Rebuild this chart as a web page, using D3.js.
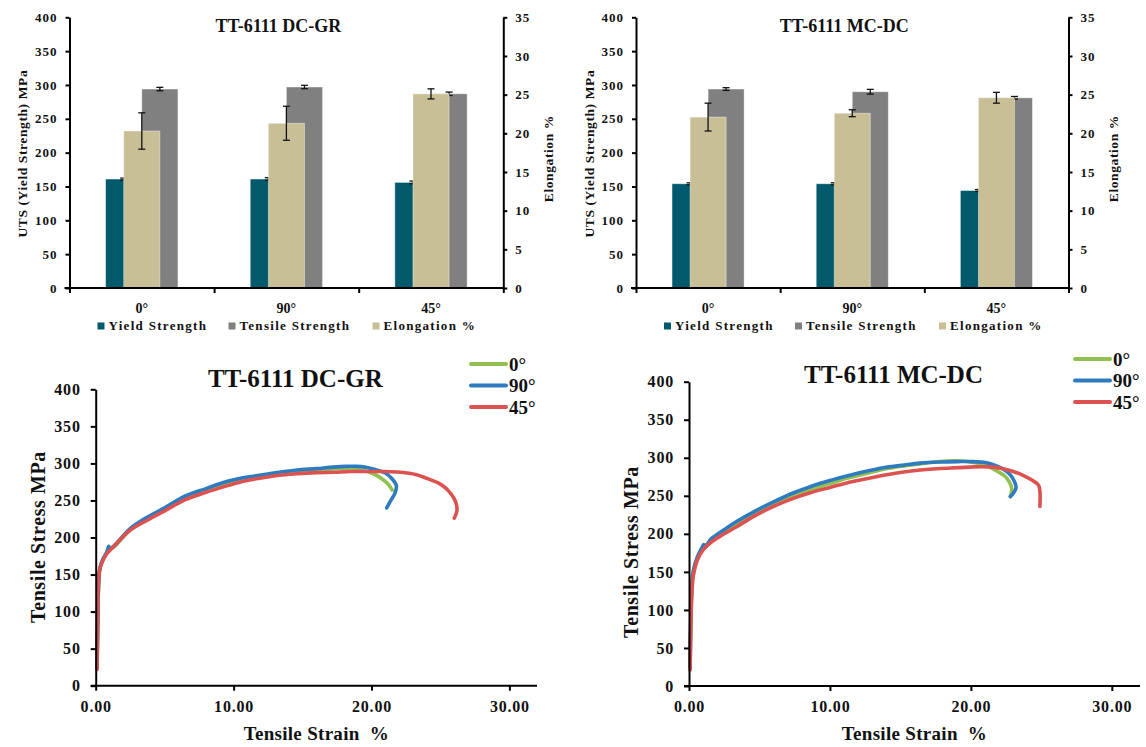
<!DOCTYPE html>
<html><head><meta charset="utf-8">
<script src="https://cdn.jsdelivr.net/npm/d3@7"></script>
<style>
body{margin:0;background:#fff}
svg{display:block}
text{font-family:"Liberation Serif","Times New Roman",serif;font-weight:bold;fill:#111}
</style>
</head><body>
<svg id="c" width="1146" height="747"></svg>
<script>
// ---------- DATA ----------
const barCategories = ["0°", "90°", "45°"];
const seriesNames = ["Yield Strength", "Tensile Strength", "Elongation %"];

const dcgrYield = [161, 161, 156];
const dcgrYieldErr = [1.5, 2, 2];
const dcgrTensile = [294, 297, 287];
const dcgrTensileErr = [2.5, 2.5, 2.5];
const dcgrElong = [20.3, 21.3, 25.1];
const dcgrElongErr = [2.35, 2.2, 0.65];

const mcdcYield = [154, 154, 144];
const mcdcYieldErr = [1.5, 1.5, 1.5];
const mcdcTensile = [294, 290, 281];
const mcdcTensileErr = [2, 3.5, 2];
const mcdcElong = [22.1, 22.6, 24.6];
const mcdcElongErr = [1.8, 0.45, 0.7];

const strengthTicks = [0, 50, 100, 150, 200, 250, 300, 350, 400];
const elongTicks = [0, 5, 10, 15, 20, 25, 30, 35];
const stressTicks = [0, 50, 100, 150, 200, 250, 300, 350, 400];
const strainTicks = [0, 10, 20, 30];

const curveNames = ["0°", "90°", "45°"];

const dcgr0 = [[0.1,25],[0.15,80],[0.2,130],[0.3,157],[0.5,169],[0.8,179],[1.0,185],[1.3,187],[2.5,210],[3.8,226],[5,238],[6.5,253],[8,264],[9.2,271],[10.5,277],[11.9,282],[13.3,286],[14.6,289],[16,291],[17.2,292.5],[18.3,293],[19.2,291],[20,287],[20.7,280],[21.2,272],[21.5,264]];
const dcgr90 = [[0.1,25],[0.15,80],[0.2,130],[0.3,158],[0.5,170],[0.8,180],[0.95,188],[1.05,185],[1.3,188],[2.5,212],[3.8,228],[5,240],[6.5,256],[8,266],[9.2,274],[10.5,280],[11.9,284],[13.3,288],[14.6,291],[16,293],[17.2,295],[18.2,296],[18.9,296],[19.5,295],[20.2,292],[21,287],[21.5,279],[21.8,270],[21.7,260],[21.4,250],[21.1,240]];
const dcgr45 = [[0.1,22],[0.12,60],[0.15,100],[0.2,140],[0.3,158],[0.5,168],[0.8,178],[1.1,184],[1.5,192],[2.5,210],[3.8,224],[5,236],[6.5,251],[8,261],[9.2,268],[10.5,275],[11.9,280],[13.3,284],[14.6,286],[16,287.5],[17.2,288],[18.5,289],[19.9,289],[21,289],[22.1,288],[23.2,285],[24,280],[24.8,274],[25.3,268],[25.8,258],[26.1,248],[26.2,237],[26.0,226]];

const mcdc0 = [[0.08,25],[0.12,80],[0.2,130],[0.3,150],[0.6,169],[1.0,181],[1.5,190],[2.3,201],[3.35,214],[4.6,227],[6,240],[7.3,250],[8.6,258],[10,266],[11.2,273],[12.5,279],[13.8,285],[15.1,289],[16.4,292],[17.8,295],[18.7,296],[19.6,295.5],[20.4,293],[21.2,289],[21.9,282],[22.4,276],[22.7,269],[22.9,260],[22.8,249]];
const mcdc90 = [[0.08,25],[0.12,80],[0.2,130],[0.3,150],[0.6,170],[0.95,183],[1.05,186],[1.15,182],[1.5,192],[2.3,203],[3.35,216],[4.6,229],[6,242],[7.3,253],[8.6,262],[10,270],[11.2,276],[12.5,282],[13.8,287],[15.1,290],[16.4,293],[17.8,294.5],[19.1,295],[20.1,295],[20.9,294],[21.6,291],[22.2,286],[22.6,281],[22.9,275],[23.15,266],[23.2,260],[23.0,253],[22.8,249]];
const mcdc45 = [[0.08,21],[0.12,70],[0.2,120],[0.3,144],[0.6,166],[1.0,179],[1.5,188],[2.3,198],[3.35,209],[4.6,223],[6,236],[7.3,246],[8.6,254],[10,261],[11.2,267],[12.5,272],[13.8,277],[15.1,281],[16.4,284],[17.8,286],[19.1,287],[20.2,288],[21.2,288],[22.2,286],[23,282],[23.7,277],[24.3,271],[24.8,264],[24.9,255],[24.9,236]];

// ---------- DRAW ----------
const svg = d3.select("#c");
const barColors = ["#005a6b", "#808080", "#c9bf97"];
const lineColors = ["#92c050", "#2e7bbf", "#dc5250"];

function styleAxis(sel, w) {
  sel.select(".domain").attr("stroke", "#000").attr("stroke-width", w);
  sel.selectAll(".tick line").attr("stroke", "#000").attr("stroke-width", w);
  sel.selectAll(".tick text").style("font-family", '"Liberation Serif",serif').style("font-weight", "bold").attr("fill", "#111");
}

function barChart(o) {
  const g = svg.append("g");
  const x = d3.scaleBand().domain(barCategories).range([o.x0, o.x1]);
  const xl = d3.scaleLinear().domain([0, 3]).range([o.x0, o.x1]);
  const yL = d3.scaleLinear().domain([0, 400]).range([o.yb, o.yt]);
  const yR = d3.scaleLinear().domain([0, 35]).range([o.yb, o.yt]);
  const bw = x.bandwidth() * 0.25;
  const series = [
    {vals: o.yield, err: o.yieldErr, s: yL, c: barColors[0], off: -bw},
    {vals: o.tensile, err: o.tensileErr, s: yL, c: barColors[1], off: 0},
    {vals: o.elong, err: o.elongErr, s: yR, c: barColors[2], off: -bw / 2}
  ];
  series.forEach(se => {
    const cx = (d) => x(d) + x.bandwidth() / 2 + se.off;
    g.append("g").selectAll("rect").data(barCategories).enter().append("rect")
      .attr("x", d => cx(d)).attr("width", bw)
      .attr("y", (d, i) => se.s(se.vals[i]))
      .attr("height", (d, i) => o.yb - se.s(se.vals[i]))
      .attr("fill", se.c).attr("stroke", "rgba(255,255,255,0.5)").attr("stroke-width", 0.8);
    const eg = g.append("g").attr("stroke", "#111").attr("stroke-width", 1.3);
    barCategories.forEach((d, i) => {
      const mx = cx(d) + bw / 2;
      const hi = se.s(se.vals[i] + se.err[i]), lo = se.s(se.vals[i] - se.err[i]);
      eg.append("line").attr("x1", mx).attr("x2", mx).attr("y1", hi).attr("y2", lo);
      eg.append("line").attr("x1", mx - 3.5).attr("x2", mx + 3.5).attr("y1", hi).attr("y2", hi);
      eg.append("line").attr("x1", mx - 3.5).attr("x2", mx + 3.5).attr("y1", lo).attr("y2", lo);
    });
  });
  // axes
  const ax = g.append("g").attr("transform", `translate(${o.x0},0)`)
    .call(d3.axisLeft(yL).tickValues(strengthTicks).tickSize(4).tickSizeOuter(0).tickPadding(8));
  ax.selectAll("text").style("font-size", "13px").style("letter-spacing", "1px");
  styleAxis(ax, 2);
  const ar = g.append("g").attr("transform", `translate(${o.x1},0)`)
    .call(d3.axisRight(yR).tickValues(elongTicks).tickSize(4).tickSizeOuter(0).tickPadding(8));
  ar.selectAll("text").style("font-size", "13px").style("letter-spacing", "1px");
  styleAxis(ar, 2);
  const ab = g.append("g").attr("transform", `translate(0,${o.yb})`)
    .call(d3.axisBottom(xl).tickValues([0, 1, 2, 3]).tickSize(5).tickSizeOuter(0).tickFormat(""));
  styleAxis(ab, 2);
  ab.select(".domain").attr("d", `M${o.x0 - 5},0H${o.x1}`);
  const ac = g.append("g").attr("transform", `translate(0,${o.yb})`)
    .call(d3.axisBottom(x).tickSize(0).tickPadding(15));
  ac.select(".domain").remove();
  ac.selectAll("text").style("font-size", "14px");
  styleAxis(ac, 2);
  // titles
  g.append("text").attr("x", (o.x0 + o.x1) / 2 - 8).attr("y", 32).attr("text-anchor", "middle")
    .style("font-size", "18px").text(o.title);
  g.append("text").attr("transform", `translate(${o.x0 - 47},${(o.yt + o.yb) / 2 + 1}) rotate(-90)`)
    .attr("text-anchor", "middle").attr("dy", "0.35em").style("font-size", "13.5px").style("letter-spacing", "0.6px")
    .attr("fill", "#2a1208").text("UTS (Yield Strength) MPa");
  g.append("text").attr("transform", `translate(${o.x1 + 45},${(o.yt + o.yb) / 2 + 6}) rotate(-90)`)
    .attr("text-anchor", "middle").attr("dy", "0.35em").style("font-size", "13.5px").style("letter-spacing", "0.6px")
    .attr("fill", "#2a1208").text("Elongation  %");
  // legend
  const lx = [o.x0 + 28, o.x0 + 159, o.x0 + 303];
  seriesNames.forEach((n, i) => {
    g.append("rect").attr("x", lx[i]).attr("y", 322.5).attr("width", 7).attr("height", 7).attr("fill", barColors[i]);
    g.append("text").attr("x", lx[i] + 11).attr("y", 330).style("font-size", "13px").style("letter-spacing", "1.3px").text(n);
  });
}

function lineChart(o) {
  const g = svg.append("g");
  const x = d3.scaleLinear().domain([0, 32]).range([o.x0, o.x1]);
  const y = d3.scaleLinear().domain([0, 400]).range([o.yb, o.yt]);
  const line = d3.line().x(d => x(d[0])).y(d => y(d[1])).curve(d3.curveCatmullRom.alpha(0.5));
  o.curves.forEach((c, i) => {
    g.append("path").attr("d", line(c)).attr("fill", "none").attr("stroke", lineColors[i])
      .attr("stroke-width", 3.6).attr("stroke-linejoin", "round").attr("stroke-linecap", "round");
  });
  const ax = g.append("g").attr("transform", `translate(${o.x0},0)`)
    .call(d3.axisLeft(y).tickValues(stressTicks).tickSize(5).tickSizeOuter(0).tickPadding(10));
  ax.selectAll("text").style("font-size", "16px").style("letter-spacing", "0.8px");
  styleAxis(ax, 2);
  const ab = g.append("g").attr("transform", `translate(0,${o.yb})`)
    .call(d3.axisBottom(x).tickValues(strainTicks).tickSize(5).tickSizeOuter(0).tickPadding(10).tickFormat(d3.format(".2f")));
  ab.selectAll("text").style("font-size", "16px").style("letter-spacing", "0.8px");
  styleAxis(ab, 2);
  ab.select(".domain").attr("d", `M${o.x0 - 5},0H${o.x1}`);
  g.append("text").attr("x", (o.x0 + o.x1) / 2 - 21).attr("y", o.titleY).attr("text-anchor", "middle")
    .style("font-size", "25px").text(o.title);
  g.append("text").attr("x", (o.x0 + o.x1) / 2).attr("y", 740).attr("text-anchor", "middle")
    .style("font-size", "19px").style("letter-spacing", "0.3px").attr("xml:space", "preserve").style("white-space", "pre")
    .text("Tensile Strain  %");
  g.append("text").attr("transform", `translate(${o.x0 - 58},${o.ylabY}) rotate(-90)`)
    .attr("text-anchor", "middle").attr("dy", "0.35em").style("font-size", "20px").style("letter-spacing", "0.6px")
    .attr("fill", "#2a1208").text("Tensile Stress MPa");
  curveNames.forEach((n, i) => {
    const ly = o.legY + i * 21.5;
    g.append("line").attr("x1", o.legX).attr("x2", o.legX + 35).attr("y1", ly).attr("y2", ly)
      .attr("stroke", lineColors[i]).attr("stroke-width", 4).attr("stroke-linecap", "round");
    g.append("text").attr("x", o.legX + 38).attr("y", ly).attr("dy", "0.36em").style("font-size", "19px").text(n);
  });
}

barChart({x0: 69.5, x1: 503.3, yt: 17.3, yb: 288, title: "TT-6111 DC-GR",
  yield: dcgrYield, yieldErr: dcgrYieldErr, tensile: dcgrTensile, tensileErr: dcgrTensileErr, elong: dcgrElong, elongErr: dcgrElongErr});
barChart({x0: 636, x1: 1068.5, yt: 17.3, yb: 288, title: "TT-6111 MC-DC",
  yield: mcdcYield, yieldErr: mcdcYieldErr, tensile: mcdcTensile, tensileErr: mcdcTensileErr, elong: mcdcElong, elongErr: mcdcElongErr});

lineChart({x0: 95.7, x1: 537, yt: 389.3, yb: 685.7, title: "TT-6111 DC-GR", titleY: 387, ylabY: 537,
  legX: 471, legY: 364, curves: [dcgr0, dcgr90, dcgr45]});
lineChart({x0: 689, x1: 1140, yt: 381.7, yb: 686, title: "TT-6111 MC-DC", titleY: 383, ylabY: 552,
  legX: 1075, legY: 359, curves: [mcdc0, mcdc90, mcdc45]});
</script>
</body></html>
